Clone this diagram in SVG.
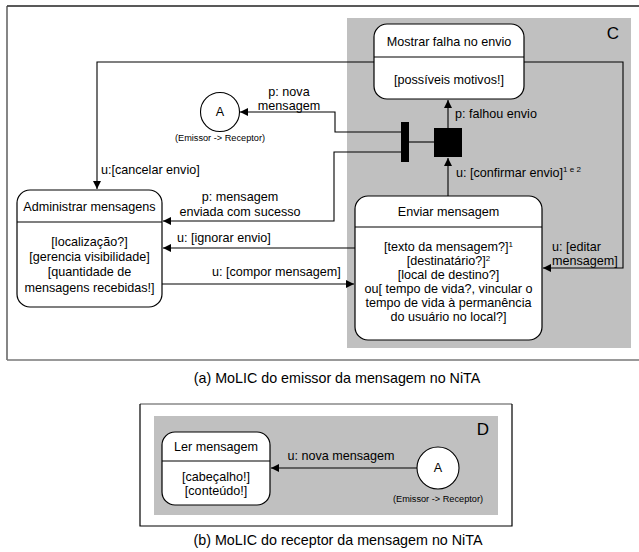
<svg xmlns="http://www.w3.org/2000/svg" width="639" height="552" viewBox="0 0 639 552">
<style>
text{font-family:"Liberation Sans",Arial,sans-serif;fill:#000}
.t{font-size:12.6px}
.m{text-anchor:middle}
.s{font-size:9.2px}
.sup{font-size:8px}
.cap{font-size:14.3px;text-anchor:middle}
.node{fill:#fff;stroke:#000;stroke-width:1.2}
.div{stroke:#000;stroke-width:1.2}
.c{fill:none;stroke:#000;stroke-width:1.1}
.area{fill:#c0c0c0}
</style>
<defs>
<marker id="ah" markerUnits="userSpaceOnUse" markerWidth="9" markerHeight="9" refX="8" refY="4" orient="auto">
<path d="M0,0 L8,4 L0,8 z" fill="#000"/>
</marker>
</defs>
<rect width="639" height="552" fill="#fff"/>
<!-- frame (a) -->
<g id="frame-a">
<line x1="7" y1="6" x2="639" y2="6" stroke="#222" stroke-width="1.3"/>
<line x1="7" y1="6" x2="7" y2="360" stroke="#444" stroke-width="1.3"/>
<line x1="7" y1="360" x2="639" y2="360" stroke="#777" stroke-width="1.3"/>
<rect class="area" x="347" y="18" width="284" height="330"/>
<text x="613" y="39" style="font-size:17px" class="m">C</text>
</g>
<!-- frame (b) -->
<g id="frame-b">
<line x1="140" y1="404" x2="512" y2="404" stroke="#888" stroke-width="1.3"/>
<path d="M140,404 V526 H512 V404" fill="none" stroke="#000" stroke-width="1.2"/>
<rect class="area" x="154" y="416" width="344" height="99"/>
<text x="483" y="435" style="font-size:17px" class="m">D</text>
</g>
<!-- connectors -->
<g id="connectors">
<path class="c" d="M374,62 H97 V189" marker-end="url(#ah)"/>
<path class="c" d="M524,62 H623 V268 H543" marker-end="url(#ah)"/>
<path class="c" d="M448,196 V158" marker-end="url(#ah)"/>
<path class="c" d="M448,128 V100" marker-end="url(#ah)"/>
<path class="c" d="M409,142 H434"/>
<path class="c" d="M401,132 H335 V112 H240" marker-end="url(#ah)"/>
<path class="c" d="M401,152 H334 V221 H163" marker-end="url(#ah)"/>
<path class="c" d="M355,248 H163" marker-end="url(#ah)"/>
<path class="c" d="M162,284 H354" marker-end="url(#ah)"/>
<path class="c" d="M417,468 H271" marker-end="url(#ah)"/>
<text class="t m" x="289" y="96">p: nova</text>
<text class="t m" x="289" y="110">mensagem</text>
<text class="t" x="101" y="174">u:[cancelar envio]</text>
<text class="t" x="455" y="118">p: falhou envio</text>
<text class="t" x="456" y="177">u: [confirmar envio]<tspan class="sup" dy="-5">1 e 2</tspan></text>
<text class="t m" x="240" y="201">p: mensagem</text>
<text class="t m" x="240" y="216">enviada com sucesso</text>
<text class="t" x="177" y="242">u: [ignorar envio]</text>
<text class="t" x="212" y="276">u: [compor mensagem]</text>
<text class="t" x="552" y="251">u: [editar</text>
<text class="t" x="552" y="265">mensagem]</text>
<text class="t m" x="341" y="460">u: nova mensagem</text>
</g>
<!-- sync bar and square -->
<g id="sync-bar"><rect x="401" y="122" width="8" height="40" fill="#000"/></g>
<g id="sync-square"><rect x="434" y="128" width="28" height="29" fill="#000"/></g>
<!-- ubiquitous access A (a) -->
<g id="node-A1">
<circle cx="220" cy="112" r="19.5" fill="#fff" stroke="#000" stroke-width="1.1"/>
<text class="t m" x="220" y="116">A</text>
<text class="s m" x="220" y="141">(Emissor -&gt; Receptor)</text>
</g>
<!-- Mostrar falha -->
<g id="node-mostrar">
<rect class="node" x="374" y="24" width="150" height="75" rx="13"/>
<line class="div" x1="374" y1="57" x2="524" y2="57"/>
<text class="t m" x="449" y="46">Mostrar falha no envio</text>
<text class="t m" x="449" y="84">[possíveis motivos!]</text>
</g>
<!-- Administrar -->
<g id="node-administrar">
<rect class="node" x="17" y="190" width="145" height="117" rx="13"/>
<line class="div" x1="17" y1="222" x2="162" y2="222"/>
<text class="t m" x="89.5" y="211">Administrar mensagens</text>
<text class="t m" x="89.5" y="246">[localização?]</text>
<text class="t m" x="89.5" y="261">[gerencia visibilidade]</text>
<text class="t m" x="89.5" y="276">[quantidade de</text>
<text class="t m" x="89.5" y="292">mensagens recebidas!]</text>
</g>
<!-- Enviar -->
<g id="node-enviar">
<rect class="node" x="355" y="196" width="187" height="144" rx="13"/>
<line class="div" x1="355" y1="227" x2="542" y2="227"/>
<text class="t m" x="448.5" y="216">Enviar mensagem</text>
<text class="t m" x="448.5" y="251">[texto da mensagem?]<tspan class="sup" dy="-4">1</tspan></text>
<text class="t m" x="448.5" y="265">[destinatário?]<tspan class="sup" dy="-4">2</tspan></text>
<text class="t m" x="448.5" y="279">[local de destino?]</text>
<text class="t m" x="448.5" y="293">ou[ tempo de vida?, vincular o</text>
<text class="t m" x="448.5" y="307">tempo de vida à permanência</text>
<text class="t m" x="448.5" y="321">do usuário no local?]</text>
</g>
<text class="cap" x="337" y="383">(a) MoLIC do emissor da mensagem no NiTA</text>
<g id="node-ler">
<rect class="node" x="162" y="432" width="108" height="73" rx="13"/>
<line class="div" x1="162" y1="461" x2="270" y2="461"/>
<text class="t m" x="216" y="451">Ler mensagem</text>
<text class="t m" x="216" y="481">[cabeçalho!]</text>
<text class="t m" x="216" y="495">[conteúdo!]</text>
</g>
<g id="node-A2">
<circle cx="438" cy="468" r="21" fill="#fff" stroke="#000" stroke-width="1.1"/>
<text class="t m" x="438" y="472">A</text>
<text class="s m" x="438" y="502">(Emissor -&gt; Receptor)</text>
</g>
<text class="cap" x="338" y="545">(b) MoLIC do receptor da mensagem no NiTA</text>
</svg>
